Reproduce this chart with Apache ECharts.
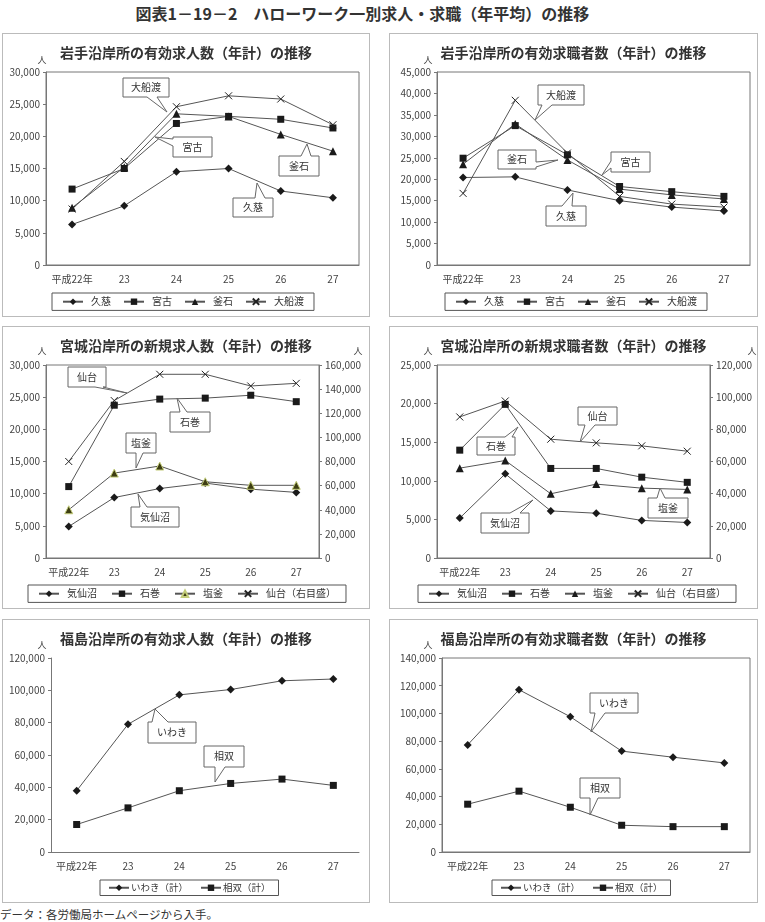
<!DOCTYPE html>
<html>
<head>
<meta charset="utf-8">
<script src="https://cdn.jsdelivr.net/npm/echarts@6/dist/echarts.min.js"></script>
<style>
  body { margin: 0; background: #fff; font-family: "Noto Sans CJK JP", sans-serif; }
  .page { position: relative; width: 765px; height: 922px; }
  .main-title { position: absolute; left: 0; top: 1px; width: 725px; text-align: center; font-size: 16px; font-weight: bold; color: #333; }
  .panel { position: absolute; outline: 1px solid #bbb; outline-offset: -1px; }
  .note { position: absolute; left: 0; top: 906px; font-size: 11.5px; color: #333; }
</style>
</head>
<body>
<div class="page">
  <div class="main-title">図表1－19－2　ハローワーク一別求人・求職（年平均）の推移</div>
  <div class="panel" id="p1" style="left:2px;top:33px;width:368px;height:284px"></div>
  <div class="panel" id="p2" style="left:389px;top:33px;width:369px;height:284px"></div>
  <div class="panel" id="p3" style="left:2px;top:326px;width:368px;height:283px"></div>
  <div class="panel" id="p4" style="left:389px;top:326px;width:369px;height:283px"></div>
  <div class="panel" id="p5" style="left:2px;top:619px;width:368px;height:284px"></div>
  <div class="panel" id="p6" style="left:389px;top:619px;width:369px;height:284px"></div>
  <div class="note">データ：各労働局ホームページから入手。</div>
</div>
<script>
const years = ['平成22年', '23', '24', '25', '26', '27'];

// 岩手 有効求人数
const iwOfferKuji = [6300, 9200, 14500, 15000, 11500, 10450];
const iwOfferMiyako = [11800, 15000, 22000, 23100, 22650, 21300];
const iwOfferKamaishi = [8900, 15200, 23500, 23100, 20300, 17700];
const iwOfferOfunato = [8700, 16100, 24600, 26300, 25800, 21800];
// 岩手 有効求職者数
const iwSeekKuji = [20400, 20550, 17500, 15000, 13500, 12600];
const iwSeekMiyako = [24900, 32500, 25700, 18300, 17100, 16000];
const iwSeekKamaishi = [23500, 32900, 24500, 17700, 16350, 15400];
const iwSeekOfunato = [16700, 38400, 26100, 16000, 14200, 13500];
// 宮城 新規求人数（仙台は右目盛）
const mgOfferKesennuma = [4900, 9400, 10800, 11650, 10700, 10200];
const mgOfferIshinomaki = [11100, 23750, 24700, 24850, 25300, 24300];
const mgOfferShiogama = [7500, 13200, 14300, 11850, 11300, 11300];
const mgOfferSendai = [80000, 130500, 152300, 152300, 142600, 144800];
// 宮城 新規求職者数（仙台は右目盛）
const mgSeekKesennuma = [5170, 10900, 6100, 5800, 4870, 4600];
const mgSeekIshinomaki = [13970, 19900, 11600, 11600, 10470, 9800];
const mgSeekShiogama = [11640, 12630, 8320, 9570, 9050, 8880];
const mgSeekSendai = [87700, 97650, 73860, 71590, 69720, 66410];
// 福島 有効求人数 / 有効求職者数
const fkOfferIwaki = [37900, 79000, 97200, 100500, 105900, 107000];
const fkOfferSoso = [17000, 27300, 37900, 42400, 45100, 41200];
const fkSeekIwaki = [77300, 117100, 97600, 72800, 68400, 64300];
const fkSeekSoso = [34500, 43900, 32300, 19300, 18300, 18300];

const FONT = '"Noto Sans CJK JP", sans-serif';
const CROSS = 'path://M0,0L10,10M10,0L0,10';

const fmt = v => v.toLocaleString('en-US');

function ser(name, data, symbol, opts) {
  opts = opts || {};
  const s = {
    name: name,
    type: 'line',
    data: data,
    yAxisIndex: opts.yAxisIndex || 0,
    symbol: symbol,
    symbolSize: symbol === 'rect' ? 7 : (symbol === CROSS ? 7 : 8),
    lineStyle: { color: '#555', width: 1 },
    itemStyle: { color: '#1a1a1a' },
    emphasis: { disabled: true },
    z: opts.z || 2
  };
  if (symbol === CROSS) s.itemStyle = { color: 'none', borderColor: '#222', borderWidth: 1 };
  if (opts.itemStyle) s.itemStyle = opts.itemStyle;
  return s;
}

function yAxis(max, interval, pos) {
  return {
    type: 'value', min: 0, max: max, interval: interval, position: pos || 'left',
    splitLine: { show: false },
    axisLine: { show: true, lineStyle: { color: '#777' } },
    axisTick: { show: true, length: 3, lineStyle: { color: '#777' } },
    axisLabel: { color: '#444', fontSize: 10, margin: 6, fontFamily: FONT, formatter: fmt }
  };
}

function callout(text, x, y, w, h, side, b1, b2, tx, ty) {
  const pts = [[x, y]];
  if (side === 'top') pts.push([b1, y], [tx, ty], [b2, y]);
  pts.push([x + w, y]);
  if (side === 'right') pts.push([x + w, b1], [tx, ty], [x + w, b2]);
  pts.push([x + w, y + h]);
  if (side === 'bottom') pts.push([b2, y + h], [tx, ty], [b1, y + h]);
  pts.push([x, y + h]);
  if (side === 'left') pts.push([x, b2], [tx, ty], [x, b1]);
  return [
    { type: 'polygon', shape: { points: pts }, style: { fill: '#fff', stroke: '#666', lineWidth: 1 }, z: 100 },
    { type: 'text', x: x + w / 2, y: y + h / 2, z: 101,
      style: { text: text, align: 'center', verticalAlign: 'middle', textAlign: 'center', textVerticalAlign: 'middle',
        fontSize: 10, fontFamily: FONT, fill: '#333' } }
  ];
}

function unit(x, y) {
  return { type: 'text', x: x, y: y, z: 50,
    style: { text: '人', align: 'center', verticalAlign: 'middle', textAlign: 'center', textVerticalAlign: 'middle',
      fontSize: 9, fontFamily: FONT, fill: '#444' } };
}

function makeOption(c) {
  let graphic = [];
  c.units.forEach(u => graphic.push(unit(u[0], u[1])));
  c.callouts.forEach(a => graphic = graphic.concat(callout.apply(null, a)));
  return {
    animation: false,
    title: {
      text: c.title, left: 'center', top: 8,
      textStyle: { fontSize: 14, fontWeight: 'bold', color: '#333', fontFamily: FONT }
    },
    grid: Object.assign({ show: c.frame !== false, borderColor: '#777', borderWidth: 1 }, c.grid),
    xAxis: {
      type: 'category', data: years,
      axisLine: { lineStyle: { color: '#777' } },
      axisTick: { inside: true, length: 4, lineStyle: { color: '#777' } },
      axisLabel: { color: '#444', fontSize: 10, margin: 9, fontFamily: FONT, interval: 0 }
    },
    yAxis: c.yAxis,
    legend: Object.assign({
      data: c.series.map(s => s.name),
      borderColor: '#555', borderWidth: 1, borderRadius: 0,
      padding: [3, 10], itemWidth: 20, itemHeight: 8,
      textStyle: { fontSize: 10, color: '#333', fontFamily: FONT, padding: [0, 0, 0, 3] }
    }, c.legend),
    series: c.series,
    graphic: graphic
  };
}

const fkLegendText = { fontSize: 9.5, color: '#333', fontFamily: FONT, padding: [0, 0, 0, -3] };

const panels = [
  {
    id: 'p1', title: '岩手沿岸所の有効求人数（年計）の推移',
    grid: { left: 44, top: 39, width: 313, height: 193 },
    yAxis: [yAxis(30000, 5000)],
    units: [[40, 27]],
    legend: { left: 50, top: 260, itemGap: 12 },
    series: [
      ser('久慈', iwOfferKuji, 'diamond'),
      ser('宮古', iwOfferMiyako, 'rect'),
      ser('釜石', iwOfferKamaishi, 'triangle'),
      ser('大船渡', iwOfferOfunato, CROSS)
    ],
    callouts: [
      ['大船渡', 121, 45, 46, 19, 'bottom', 145, 155, 165, 79],
      ['宮古', 171, 104, 39, 20, 'left', 106, 113, 153, 104],
      ['釜石', 277, 123, 40, 20, 'top', 299, 309, 305, 111],
      ['久慈', 231, 165, 40, 19, 'top', 253, 263, 255, 150]
    ]
  },
  {
    id: 'p2', title: '岩手沿岸所の有効求職者数（年計）の推移',
    grid: { left: 48, top: 39, width: 313, height: 193 },
    yAxis: [yAxis(45000, 5000)],
    units: [[39, 27]],
    legend: { left: 56, top: 260, itemGap: 12 },
    series: [
      ser('久慈', iwSeekKuji, 'diamond'),
      ser('宮古', iwSeekMiyako, 'rect'),
      ser('釜石', iwSeekKamaishi, 'triangle'),
      ser('大船渡', iwSeekOfunato, CROSS)
    ],
    callouts: [
      ['大船渡', 149, 52, 46, 20, 'bottom', 153, 163, 146, 87],
      ['釜石', 109, 117, 38, 19, 'right', 129, 134, 169, 127],
      ['宮古', 222, 119, 39, 20, 'left', 128, 135, 213, 142],
      ['久慈', 157, 173, 40, 20, 'top', 173, 183, 184, 160]
    ]
  },
  {
    id: 'p3', title: '宮城沿岸所の新規求人数（年計）の推移',
    grid: { left: 44, top: 39, width: 273, height: 193 },
    yAxis: [yAxis(30000, 5000), yAxis(160000, 20000, 'right')],
    units: [[40, 25], [356, 25]],
    legend: { left: 26, top: 259, itemGap: 14 },
    series: [
      ser('気仙沼', mgOfferKesennuma, 'diamond'),
      ser('石巻', mgOfferIshinomaki, 'rect'),
      ser('塩釜', mgOfferShiogama, 'triangle', { itemStyle: { color: '#3d3d12', borderColor: '#c3cc7a', borderWidth: 1 } }),
      ser('仙台（右目盛）', mgOfferSendai, CROSS, { yAxisIndex: 1 })
    ],
    callouts: [
      ['仙台', 66, 41, 38, 20, 'bottom', 93, 101, 125, 67],
      ['石巻', 168, 86, 40, 20, 'top', 178, 185, 175, 72],
      ['塩釜', 124, 107, 30, 20, 'bottom', 134, 141, 134, 142],
      ['気仙沼', 129, 181, 48, 20, 'top', 138, 145, 136, 168]
    ]
  },
  {
    id: 'p4', title: '宮城沿岸所の新規求職者数（年計）の推移',
    grid: { left: 48, top: 39, width: 273, height: 193 },
    yAxis: [yAxis(25000, 5000), yAxis(120000, 20000, 'right')],
    units: [[39, 25], [363, 25]],
    legend: { left: 29, top: 259, itemGap: 14 },
    series: [
      ser('気仙沼', mgSeekKesennuma, 'diamond'),
      ser('石巻', mgSeekIshinomaki, 'rect'),
      ser('塩釜', mgSeekShiogama, 'triangle'),
      ser('仙台（右目盛）', mgSeekSendai, CROSS, { yAxisIndex: 1 })
    ],
    callouts: [
      ['仙台', 189, 81, 39, 18, 'bottom', 196, 206, 191, 116],
      ['石巻', 88, 111, 38, 18, 'top', 116, 123, 129, 101],
      ['塩釜', 259, 172, 40, 20, 'top', 268, 276, 271, 162],
      ['気仙沼', 92, 187, 48, 20, 'top', 121, 131, 144, 174]
    ]
  },
  {
    id: 'p5', title: '福島沿岸所の有効求人数（年計）の推移', frame: false,
    grid: { left: 49, top: 39, width: 308, height: 194 },
    yAxis: [yAxis(120000, 20000)],
    units: [[40, 26]],
    legend: { left: 98, top: 261, itemGap: 12, padding: [3, 8], textStyle: fkLegendText },
    series: [
      ser('いわき（計）', fkOfferIwaki, 'diamond'),
      ser('相双（計）', fkOfferSoso, 'rect')
    ],
    callouts: [
      ['いわき', 146, 103, 48, 21, 'top', 150, 166, 153, 90],
      ['相双', 202, 127, 40, 21, 'bottom', 213, 223, 213, 163]
    ]
  },
  {
    id: 'p6', title: '福島沿岸所の有効求職者数（年計）の推移',
    grid: { left: 53, top: 39, width: 308, height: 194 },
    yAxis: [yAxis(140000, 20000)],
    units: [[39, 26]],
    legend: { left: 103, top: 261, itemGap: 12, padding: [3, 8], textStyle: fkLegendText },
    series: [
      ser('いわき（計）', fkSeekIwaki, 'diamond'),
      ser('相双（計）', fkSeekSoso, 'rect')
    ],
    callouts: [
      ['いわき', 201, 74, 48, 20, 'bottom', 206, 216, 202, 113],
      ['相双', 191, 159, 40, 20, 'bottom', 201, 209, 201, 196]
    ]
  }
];

panels.forEach(p => {
  const chart = echarts.init(document.getElementById(p.id));
  chart.setOption(makeOption(p));
});
</script>
</body>
</html>
